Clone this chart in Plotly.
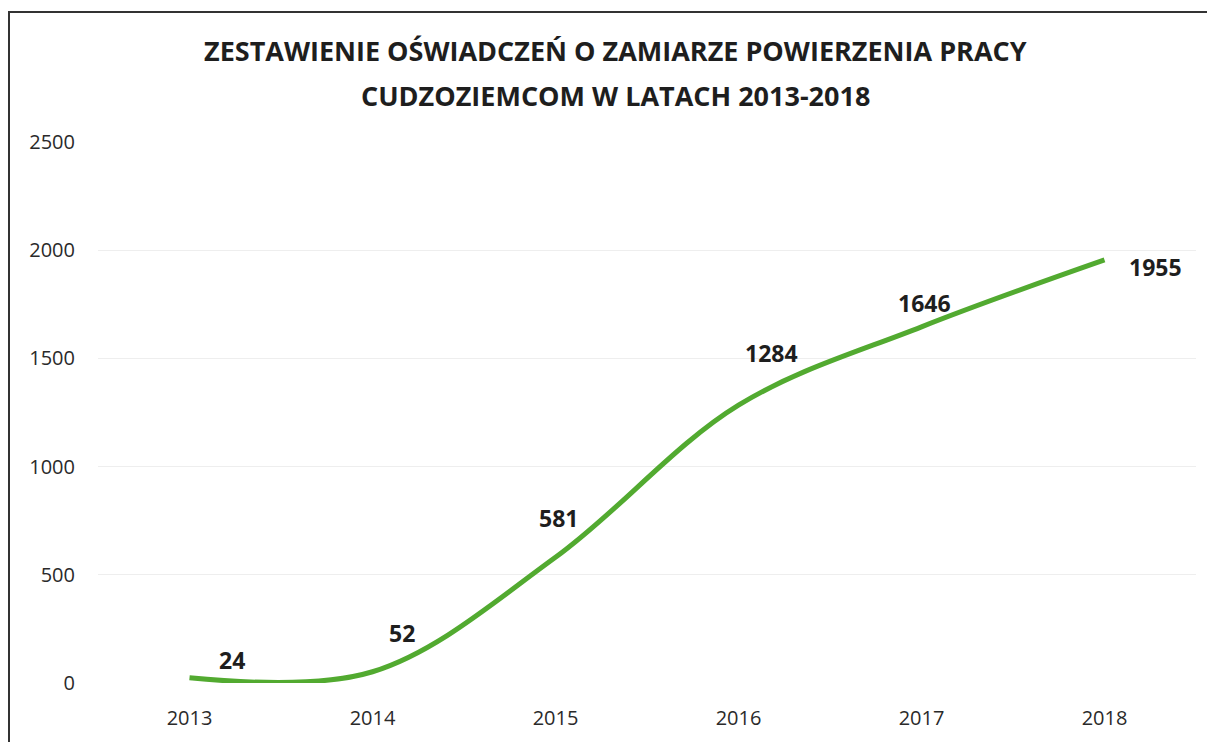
import plotly.graph_objects as go

years = ["2013", "2014", "2015", "2016", "2017", "2018"]
values = [24, 52, 581, 1284, 1646, 1955]
label_dx = [42, 29, 3, 33, 3, 51]
label_dy = [18, 39, 39, 52, 24, -7]
title_line1 = "ZESTAWIENIE OŚWIADCZEŃ O ZAMIARZE POWIERZENIA PRACY"
title_line2 = "CUDZOZIEMCOM W LATACH 2013-2018"

# page body has an 8px margin, so the figure is sized/offset accordingly
OFF = 8
W, H = 1215 - OFF, 742 - OFF
L, R, T, B = 90, 19, 134, 59
pw, ph = W - L - R, H - T - B

def px_x(p):
    return (p - OFF - L) / pw

def px_y(p):
    return (H - B - (p - OFF)) / ph

fig = go.Figure()
fig.add_trace(go.Scatter(
    x=years, y=values,
    mode="lines",
    line=dict(color="rgb(82,170,48)", width=5, shape="spline", smoothing=1.0),
    cliponaxis=False,
    hoverinfo="x+y",
))

# data labels: anchored on the category index of each point
annotations = [
    dict(x=i, y=v, xref="x", yref="y", text=str(v), showarrow=False,
         xanchor="center", yanchor="middle", xshift=dx, yshift=dy,
         font=dict(family="Open Sans", size=23, color="#1e1e1e", weight="bold"))
    for i, (v, dx, dy) in enumerate(zip(values, label_dx, label_dy))
]
annotations += [
    dict(text=title_line1, xref="paper", yref="paper", x=px_x(615), y=px_y(50),
         showarrow=False, xanchor="center", yanchor="middle",
         font=dict(family="Open Sans", size=27, color="#1e1e1e", weight="bold")),
    dict(text=title_line2, xref="paper", yref="paper", x=px_x(615), y=px_y(95),
         showarrow=False, xanchor="center", yanchor="middle",
         font=dict(family="Open Sans", size=27, color="#1e1e1e", weight="bold")),
]

fig.update_layout(
    width=W, height=H,
    margin=dict(l=L, r=R, t=T, b=B),
    paper_bgcolor="white", plot_bgcolor="white",
    showlegend=False,
    font=dict(family="Open Sans", color="#2a2a2a"),
    xaxis=dict(type="category", range=[-0.5, 5.5], showgrid=False, zeroline=False,
               showline=False, ticks="", tickfont=dict(size=20, color="#2a2a2a"),
               ticklabelstandoff=21),
    yaxis=dict(range=[0, 2500], dtick=500, showgrid=True, gridcolor="rgb(238,238,238)",
               gridwidth=1, zeroline=False, showline=False, ticks="",
               tickfont=dict(size=20, color="#2a2a2a"), ticklabelstandoff=22),
    annotations=annotations,
    shapes=[
        dict(type="line", xref="paper", yref="paper", x0=px_x(8), x1=px_x(1220),
             y0=px_y(12), y1=px_y(12), line=dict(color="#333", width=2)),
        dict(type="line", xref="paper", yref="paper", x0=px_x(9), x1=px_x(9),
             y0=px_y(12), y1=px_y(750), line=dict(color="#333", width=2)),
    ],
)

fig.write_html("out.html")
